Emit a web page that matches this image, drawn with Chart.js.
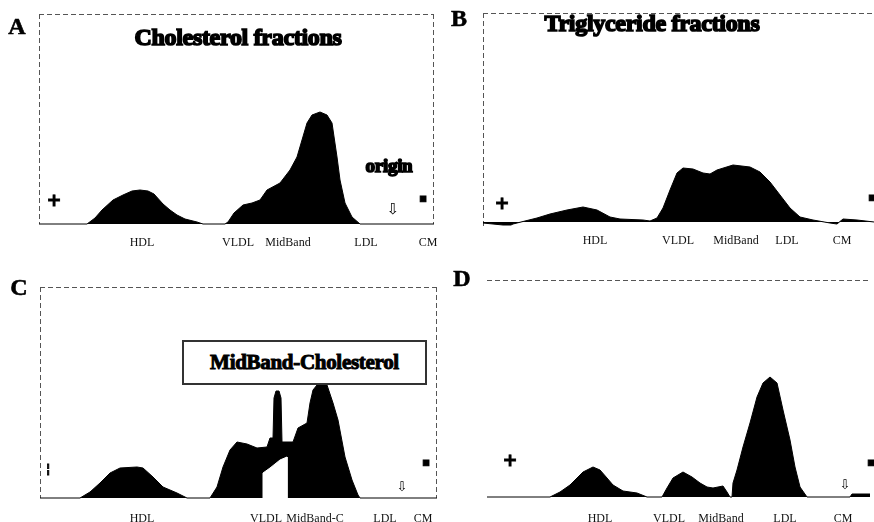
<!DOCTYPE html>
<html><head><meta charset="utf-8">
<script src="https://cdn.jsdelivr.net/npm/chart.js@4.4.0/dist/chart.umd.min.js"></script>
<style>
html,body{margin:0;padding:0;background:#fff;width:874px;height:522px;overflow:hidden;position:relative;}
canvas{position:absolute;left:0;top:0;}
.t{position:absolute;transform:translate(-50%,-50%);white-space:nowrap;font-family:"Liberation Serif",serif;font-weight:bold;color:#000;line-height:1;}
.title{font-size:24px;-webkit-text-stroke:1.6px #000;letter-spacing:-0.3px;}
.letter{font-size:24px;-webkit-text-stroke:0.6px #000;}
.mk{font-family:"DejaVu Sans",sans-serif;font-size:18px;-webkit-text-stroke:0.8px #000;}
.box{position:absolute;border:2px solid #333;background:#fff;box-sizing:border-box;display:flex;align-items:center;justify-content:center;font-family:"Liberation Serif",serif;font-weight:bold;font-size:21px;-webkit-text-stroke:1px #000;letter-spacing:-0.3px;white-space:nowrap;}
</style></head><body>
<canvas id="cA" width="874" height="522"></canvas>
<canvas id="cB" width="874" height="522"></canvas>
<canvas id="cC" width="874" height="522"></canvas>
<canvas id="cD" width="874" height="522"></canvas>

<div class="t letter" style="left:17px;top:26px">A</div>
<div class="t letter" style="left:459px;top:18px">B</div>
<div class="t letter" style="left:19px;top:287px">C</div>
<div class="t letter" style="left:462px;top:278px">D</div>

<div class="t title" style="left:238px;top:37px">Cholesterol fractions</div>
<div class="t title" style="left:652px;top:23px">Triglyceride fractions</div>
<div class="t title" style="left:389px;top:165px;font-size:19px">origin</div>
<div class="box" style="left:182px;top:340px;width:245px;height:45px">MidBand-Cholesterol</div>

<div class="t mk" style="left:54px;top:200px">+</div>
<div class="t mk" style="left:502px;top:203px">+</div>
<div class="t mk" style="left:48px;top:468px;font-size:13px">¦</div>
<div class="t mk" style="left:510px;top:460px">+</div>
<div class="t mk" style="left:423px;top:198px;font-size:12px">▪</div>
<div class="t mk" style="left:872px;top:197px;font-size:12px">▪</div>
<div class="t mk" style="left:426px;top:462px;font-size:12px">▪</div>
<div class="t mk" style="left:871px;top:462px;font-size:12px">▪</div>
<div class="t mk" style="left:393px;top:209px;font-size:15px;font-weight:normal;-webkit-text-stroke:0">⇩</div>
<div class="t mk" style="left:402px;top:486px;font-size:13px;font-weight:normal;-webkit-text-stroke:0">⇩</div>
<div class="t mk" style="left:845px;top:484px;font-size:13px;font-weight:normal;-webkit-text-stroke:0">⇩</div>

<script>
// ---- Panel A: cholesterol fractions (position from frame left, density above baseline) ----
const A_pos = [0,48,56,63,74,84,93,101,109,115,124,131,138,146,158,164,186,189,195,204,213,221,228,241,251,258,263,268,273,281,288,293,298,301,306,313,321,395];
const A_val = [0,0,6,14,24,29,33,34,33,30,20,14,9,5,2,0,0,2,11,19,21,24,34,41,54,67,84,101,109,112,109,101,67,44,21,7,0,0];
const A_tickPos = [103,199,249,327,389];
const A_tickLab = ["HDL","VLDL","MidBand","LDL","CM"];

// ---- Panel B: triglyceride fractions ----
const B_pos = [0,20,28,30,54,67,84,100,114,127,137,160,167,174,180,187,194,200,210,220,227,234,250,267,277,287,297,307,317,330,347,354,360,374,391];
const B_val = [-1,-3,-3,-2,4,8,12,15,12,5,3,2,1,4,14,32,49,54,53,49,48,52,57,55,50,40,27,14,5,2,-1,-2,3,2,0];
const B_tickPos = [112,195,253,304,359];
const B_tickLab = ["HDL","VLDL","MidBand","LDL","CM"];

// ---- Panel C: MidBand-cholesterol ----
const C_pos = [0,20,40,50,60,70,80,97,103,113,123,137,147,170,177,183,190,197,207,217,227,230,233,234,236,239,241,242,253,258,267,270,273,277,287,293,298,305,312,318,320,397];
const C_val = [0,0,0,6,15,25,30,31,30,21,11,5,0,0,11,31,48,56,54,50,51,60,60,100,107,107,100,56,56,70,75,95,108,113,113,95,78,41,18,3,0,0];
const C_gapPos = [223,223,230,240,247,247];
const C_gapVal = [0,25,30,38,41,0];
const C_tickPos = [102,226,275,345,383];
const C_tickLab = ["HDL","VLDL","MidBand-C","LDL","CM"];

// ---- Panel D ----
const D_pos = [0,63,73,83,90,96,106,113,120,126,136,150,160,175,180,186,196,205,213,220,226,236,240,243,245,246,250,256,263,270,276,283,290,296,303,308,313,320,363,365,383];
const D_val = [0,0,5,12,19,25,30,27,19,12,6,4,0,0,9,19,25,20,14,10,9,11,5,0,0,14,27,50,74,100,114,120,114,87,57,30,10,0,0,3,3];
const D_tickPos = [113,182,234,298,356];
const D_tickLab = ["HDL","VLDL","MidBand","LDL","CM"];

const framePlugin = (sides) => ({
  id: 'frame',
  beforeDatasetsDraw(chart) {
    const {ctx, chartArea: a} = chart;
    ctx.save();
    ctx.strokeStyle = '#555';
    ctx.lineWidth = 1;
    ctx.setLineDash([5, 3]);
    ctx.beginPath();
    if (sides.includes('t')) { ctx.moveTo(a.left, a.top + 0.5); ctx.lineTo(a.right, a.top + 0.5); }
    if (sides.includes('l')) { ctx.moveTo(a.left + 0.5, a.top); ctx.lineTo(a.left + 0.5, a.bottom); }
    if (sides.includes('r')) { ctx.moveTo(a.right - 0.5, a.top); ctx.lineTo(a.right - 0.5, a.bottom); }
    ctx.stroke();
    ctx.restore();
  }
});

function series(pos, vals, color, order) {
  return {
    data: pos.map((x, i) => ({x: x, y: vals[i]})),
    fill: 'origin', backgroundColor: color, borderColor: color,
    borderWidth: 1, pointRadius: 0, tension: 0, clip: false, order: order
  };
}

function makePanel(id, geo, datasets, tickPos, tickLab, sides) {
  new Chart(document.getElementById(id), {
    type: 'line',
    data: {datasets: datasets},
    options: {
      responsive: false, animation: false, events: [],
      layout: {padding: {left: geo.l, top: geo.t, right: 874 - geo.r, bottom: 522 - geo.b - 30}},
      plugins: {legend: {display: false}, tooltip: {enabled: false}},
      scales: {
        x: {
          type: 'linear', min: 0, max: geo.r - geo.l,
          grid: {display: false, drawTicks: false}, border: {display: false},
          afterFit(s) { s.height = 30; },
          afterBuildTicks(s) { s.ticks = tickPos.map(v => ({value: v})); },
          ticks: {
            autoSkip: false, maxRotation: 0, padding: geo.pad, color: '#111',
            font: {family: 'Liberation Serif', size: 12},
            callback: (v) => { const i = tickPos.indexOf(v); return i >= 0 ? tickLab[i] : ''; }
          }
        },
        y: {display: false, min: geo.ymin, max: geo.ymax}
      }
    },
    plugins: [framePlugin(sides)]
  });
}

makePanel('cA', {l: 39, t: 14, r: 434, b: 224, ymin: 0, ymax: 210, pad: 12},
  [series(A_pos, A_val, '#000', 1)], A_tickPos, A_tickLab, 'tlr');
makePanel('cB', {l: 483, t: 13, r: 874, b: 226, ymin: -4, ymax: 209, pad: 8},
  [series(B_pos, B_val, '#000', 1)], B_tickPos, B_tickLab, 'tl');
makePanel('cC', {l: 40, t: 287, r: 437, b: 498, ymin: 0, ymax: 211, pad: 14},
  [series(C_gapPos, C_gapVal, '#fff', 1), series(C_pos, C_val, '#000', 2)], C_tickPos, C_tickLab, 'tlr');
makePanel('cD', {l: 487, t: 280, r: 870, b: 497, ymin: 0, ymax: 217, pad: 15},
  [series(D_pos, D_val, '#000', 1)], D_tickPos, D_tickLab, 't');
</script>
</body></html>
